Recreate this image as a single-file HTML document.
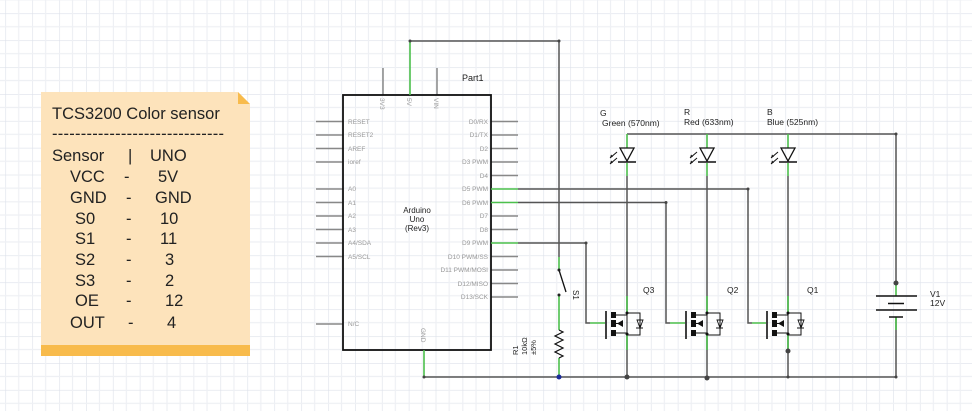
<!DOCTYPE html>
<html><head><meta charset="utf-8"><style>
html,body{margin:0;padding:0;background:#fff}
svg{display:block}
text{font-family:"Liberation Sans",sans-serif}
</style></head><body>
<svg width="972" height="411" viewBox="0 0 972 411" xmlns="http://www.w3.org/2000/svg">
<defs>
<pattern id="g" x="5.3" y="13.3" width="26.9" height="26.9" patternUnits="userSpaceOnUse">
<path d="M0 0V26.9M0 0H26.9" stroke="#dde1ea" stroke-width="1.2" fill="none"/>
<path d="M13.45 0V26.9M0 13.45H26.9" stroke="#eef0f4" stroke-width="1.2" fill="none"/>
</pattern>
</defs>
<rect width="972" height="411" fill="url(#g)"/>

<!-- Note -->
<path d="M41 92H238L250 104V356H41Z" fill="#fde3bb"/>
<path d="M238 92L250 104H238Z" fill="#f8bb4c"/>
<rect x="41" y="345" width="209" height="11" fill="#f8bb4c"/>
<g font-size="16.5" fill="#222">
<text x="52" y="119">TCS3200 Color sensor</text>
<text x="52" y="139" textLength="172">------------------------------</text>
<text x="52" y="161">Sensor</text><text x="128" y="161">|</text><text x="150" y="161">UNO</text>
<text x="70" y="182">VCC</text><text x="124" y="182">-</text><text x="158" y="182">5V</text>
<text x="70" y="203">GND</text><text x="126" y="203">-</text><text x="155" y="203">GND</text>
<text x="75" y="224">S0</text><text x="126" y="224">-</text><text x="160" y="224">10</text>
<text x="75" y="244">S1</text><text x="126" y="244">-</text><text x="160" y="244">11</text>
<text x="75" y="265">S2</text><text x="126" y="265">-</text><text x="165" y="265">3</text>
<text x="75" y="286">S3</text><text x="126" y="286">-</text><text x="165" y="286">2</text>
<text x="75" y="306">OE</text><text x="126" y="306">-</text><text x="165" y="306">12</text>
<text x="70" y="328">OUT</text><text x="128" y="328">-</text><text x="167" y="328">4</text>
</g>

<!-- Arduino -->
<g stroke="#888" stroke-width="1.5">
<path d="M383 68V95M437 68V95"/>
<path d="M316 121.5H343M316 135H343M316 148.5H343M316 162H343M316 189H343M316 202.5H343M316 216H343M316 229.5H343M316 243H343M316 256.5H343M316 324H343"/>
<path d="M491 121.5H518M491 135H518M491 148.5H518M491 162H518M491 175.5H518M491 216H518M491 229.5H518M491 256.5H518M491 270H518M491 283.5H518M491 297H518"/>
</g>
<rect x="343" y="95" width="148" height="255" fill="none" stroke="#111" stroke-width="1.8"/>
<g font-size="6.5" fill="#999">
<text x="348" y="124">RESET</text><text x="348" y="137">RESET2</text><text x="348" y="151">AREF</text><text x="348" y="164">ioref</text>
<text x="348" y="191">A0</text><text x="348" y="205">A1</text><text x="348" y="218">A2</text><text x="348" y="232">A3</text><text x="348" y="245">A4/SDA</text><text x="348" y="259">A5/SCL</text><text x="348" y="326">N/C</text>
</g>
<g font-size="6.5" fill="#999" text-anchor="end">
<text x="488" y="124">D0/RX</text><text x="488" y="137">D1/TX</text><text x="488" y="151">D2</text><text x="488" y="164">D3 PWM</text><text x="488" y="178">D4</text><text x="488" y="191">D5 PWM</text><text x="488" y="205">D6 PWM</text><text x="488" y="218">D7</text><text x="488" y="232">D8</text><text x="488" y="245">D9 PWM</text><text x="488" y="259">D10 PWM/SS</text><text x="488" y="272">D11 PWM/MOSI</text><text x="488" y="286">D12/MISO</text><text x="488" y="299">D13/SCK</text>
</g>
<g font-size="6.5" fill="#999">
<text transform="translate(380,98) rotate(90)">3V3</text>
<text transform="translate(407,98) rotate(90)">5V</text>
<text transform="translate(434,98) rotate(90)">VIN</text>
<text transform="translate(421,328) rotate(90)">GND</text>
</g>
<g font-size="8" fill="#222" text-anchor="middle">
<text x="417" y="213">Arduino</text><text x="417" y="222">Uno</text><text x="417" y="231">(Rev3)</text>
</g>
<text x="462" y="81" font-size="9" fill="#222">Part1</text>

<!-- wires dark -->
<g stroke="#555" stroke-width="1.5" fill="none">
<path d="M410 41H559V257"/>
<path d="M518 189H748V323H752"/>
<path d="M518 202.5H666V323H670"/>
<path d="M518 243H586V323H590"/>
<path d="M424 377H896V317"/>
<path d="M627 134H896V283"/>
<path d="M627 176V313M707 176V313M788 176V313"/>
<path d="M627 335V377M707 335V377M788 335V377"/>
</g>
<!-- green pin segments -->
<g stroke="#4cc04c" stroke-width="1.6" fill="none">
<path d="M410 41V95"/>
<path d="M491 189H518M491 202.5H518M491 243H518"/>
<path d="M424 350V377"/>
<path d="M559 257V270M559 295V330M559 358V377"/>
<path d="M590 323H605M670 323H685M752 323H766"/>
<path d="M627 134V148M627 163V176M707 134V148M707 163V176M788 134V148M788 163V176"/>
<path d="M627 296V313M627 335V350M707 296V313M707 335V350M788 296V313M788 335V350"/>
<path d="M896 283V296M896 317V330"/>
</g>
<!-- switch -->
<path d="M559 270L566 292" stroke="#111" stroke-width="1.3"/>
<circle cx="559" cy="270" r="1.5" fill="#222"/><circle cx="559" cy="295" r="1.5" fill="#222"/>
<text transform="translate(573,290) rotate(90)" font-size="8" fill="#222">S1</text>
<!-- resistor -->
<path d="M559 330L563 332L555 336L563 340L555 344L563 348L555 352L563 356L559 358" stroke="#111" stroke-width="1.2" fill="none"/>
<g font-size="7.5" fill="#222">
<text transform="translate(518,355) rotate(-90)">R1</text>
<text transform="translate(527,355) rotate(-90)">10kΩ</text>
<text transform="translate(536,355) rotate(-90)">±5%</text>
</g>
<circle cx="559" cy="377" r="2.5" fill="#1a2a9a"/>

<!-- LEDs -->
<g id="led">
<path d="M620 148H634L627 161Z" fill="none" stroke="#111" stroke-width="1.3"/>
<path d="M618 162H636" stroke="#111" stroke-width="1.5"/>
<path d="M617 152L610 158M617 158L610 164" stroke="#111" stroke-width="1"/>
<path d="M610 158l1-3.5 2 2zM610 164l1-3.5 2 2z" fill="#111"/>
</g>
<use href="#led" x="80"/><use href="#led" x="161"/>
<g font-size="8.5" fill="#222">
<text x="600" y="116">G</text><text x="602" y="126">Green (570nm)</text>
<text x="684" y="115">R</text><text x="684" y="125">Red (633nm)</text>
<text x="767" y="115">B</text><text x="767" y="125">Blue (525nm)</text>
<text x="643" y="293">Q3</text><text x="727" y="293">Q2</text><text x="807" y="293">Q1</text>
<text x="930" y="297">V1</text><text x="930" y="306">12V</text>
</g>

<!-- MOSFETs -->
<g id="q">
<path d="M606 311V339" stroke="#111" stroke-width="1.6"/>
<rect x="611" y="312" width="5" height="6" fill="#111"/>
<rect x="611" y="320" width="5" height="7" fill="#111"/>
<rect x="611" y="330" width="5" height="6" fill="#111"/>
<path d="M616 315H627M616 333H627M616 323.5H620M627 313V335M627 313H640V335H627" stroke="#111" stroke-width="1" fill="none"/>
<path d="M617 323.5L623 320V327Z" fill="#111"/>
<path d="M636 328H643M640 328L637 320H643Z" stroke="#111" stroke-width="0.9" fill="none"/>
<circle cx="627" cy="313" r="1.5" fill="#111"/><circle cx="627" cy="334" r="1.5" fill="#111"/>
</g>
<use href="#q" x="80"/><use href="#q" x="161"/>

<!-- battery -->
<g stroke="#111" stroke-width="1.6">
<path d="M876 296H917M888 303.5H904M876 310H917M889 317H903"/>
</g>
<g fill="#444">
<circle cx="896" cy="283" r="2.5"/><circle cx="788" cy="351" r="2.5"/>
<circle cx="627" cy="377" r="2.5"/><circle cx="707" cy="378" r="2.5"/>
<circle cx="410" cy="41" r="1.5"/><circle cx="559" cy="41" r="1.5"/>
<circle cx="748" cy="189" r="1.5"/><circle cx="666" cy="202.5" r="1.5"/><circle cx="586" cy="243" r="1.5"/>
<circle cx="896" cy="134" r="1.5"/><circle cx="788" cy="377" r="1.5"/><circle cx="896" cy="377" r="1.5"/><circle cx="424" cy="377" r="1.5"/>
</g>
</svg>
</body></html>
